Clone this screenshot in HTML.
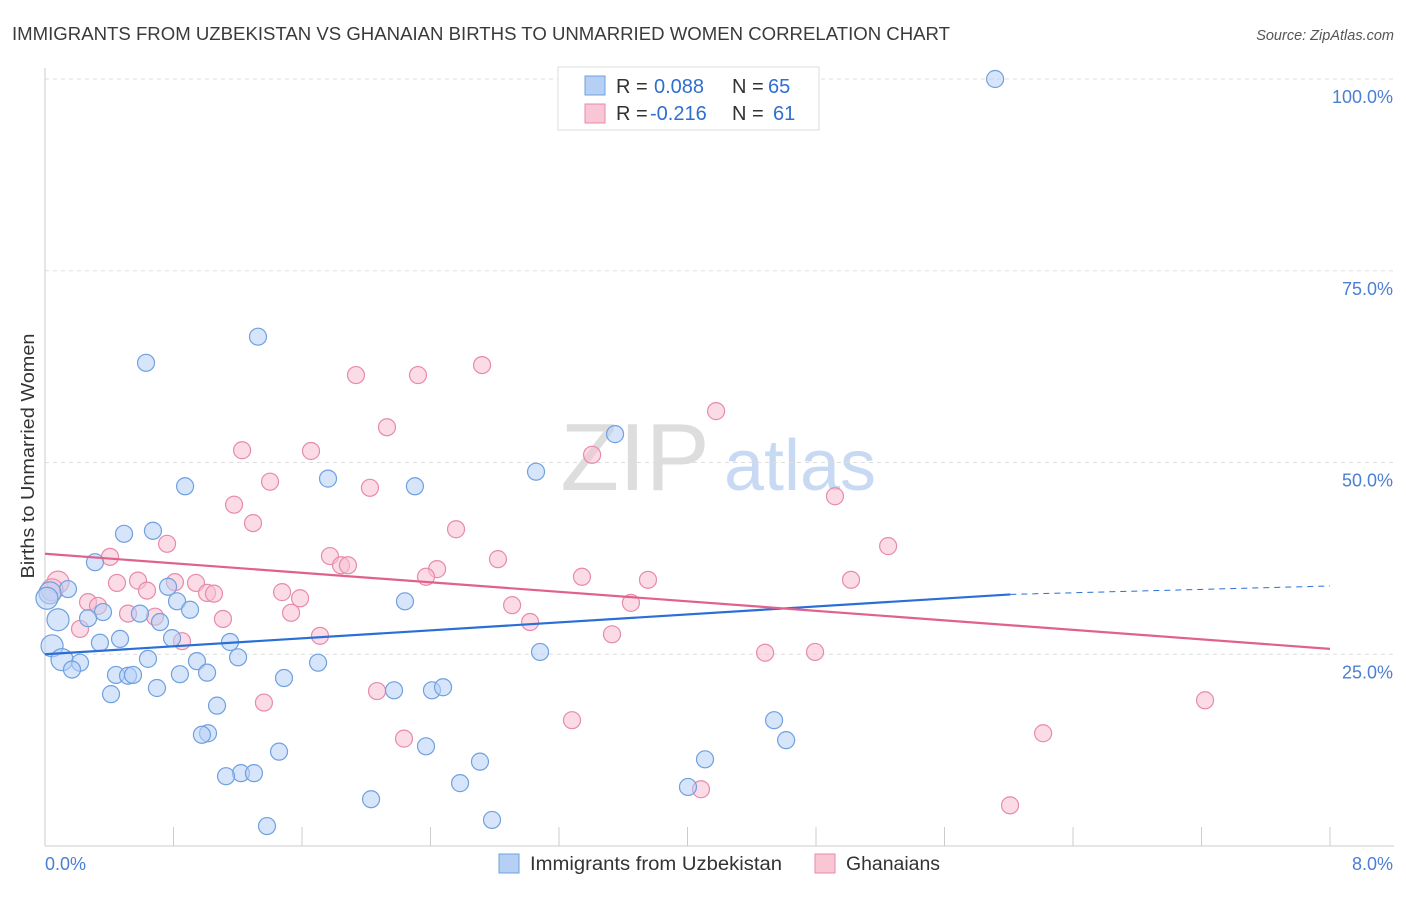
<!DOCTYPE html>
<html><head><meta charset="utf-8"><style>
body{margin:0;background:#fff;font-family:"Liberation Sans",sans-serif;}
svg text{font-family:"Liberation Sans",sans-serif;}
</style></head><body>
<svg id="chart" width="1406" height="892" xmlns="http://www.w3.org/2000/svg">
<text x="12" y="40" font-size="18" fill="#3a3a3a" textLength="938" lengthAdjust="spacingAndGlyphs">IMMIGRANTS FROM UZBEKISTAN VS GHANAIAN BIRTHS TO UNMARRIED WOMEN CORRELATION CHART</text>
<text x="1394" y="40" font-size="14.5" fill="#555" font-style="italic" text-anchor="end">Source: ZipAtlas.com</text>
<text transform="translate(34,456) rotate(-90)" font-size="18" fill="#333" text-anchor="middle" textLength="245" lengthAdjust="spacingAndGlyphs">Births to Unmarried Women</text>
<g>
<text x="635" y="490" font-size="96" fill="#ddd" font-family="Liberation Serif" text-anchor="middle">ZIP</text>
<text x="800" y="490" font-size="72" fill="#c8daf3" text-anchor="middle">atlas</text>
</g>
<g id="grid"></g><g id="marks"></g><g id="lines"></g>
<g>
<rect x="558" y="67" width="261" height="63" fill="#fff" stroke="#ddd"/>
<rect x="585" y="76" width="20" height="19" fill="#b6d0f5" stroke="#6fa0e0"/>
<rect x="585" y="104" width="20" height="19" fill="#f9c6d6" stroke="#e88aab"/>
<text x="616" y="93" font-size="20" fill="#333">R = <tspan x="654" fill="#2f6fd0">0.088</tspan><tspan x="732">N = </tspan><tspan x="768" fill="#2f6fd0">65</tspan></text>
<text x="616" y="120" font-size="20" fill="#333">R = <tspan x="650" fill="#2f6fd0">-0.216</tspan><tspan x="732">N = </tspan><tspan x="773" fill="#2f6fd0">61</tspan></text>
</g>
<g>
<rect x="499" y="854" width="20" height="19" fill="#b6d0f5" stroke="#6fa0e0"/>
<text x="530" y="870" font-size="19" fill="#333" textLength="252" lengthAdjust="spacingAndGlyphs">Immigrants from Uzbekistan</text>
<rect x="815" y="854" width="20" height="19" fill="#f9c6d6" stroke="#e88aab"/>
<text x="846" y="870" font-size="19" fill="#333" textLength="94" lengthAdjust="spacingAndGlyphs">Ghanaians</text>
</g>
</svg>
<script>
const yTicks=[25,50,75,100];
const yTickLabels=["25.0%","50.0%","75.0%","100.0%"];
const xTickLabels=["0.0%","8.0%"];
const blueX=[5.915,1.326,0.629,3.549,3.057,0.872,1.762,2.303,0.672,0.492,0.311,0.143,0.031,0.766,0.822,2.241,0.361,0.591,0.903,0.268,0.081,0.716,0.467,0.342,0.791,1.152,0.044,3.082,0.106,0.218,0.641,0.946,1.202,1.700,0.168,0.442,0.517,0.548,0.840,1.009,1.488,0.697,0.411,2.173,2.409,2.478,1.071,4.539,1.015,0.977,4.614,2.372,1.457,4.109,2.708,1.220,1.301,1.127,2.584,4.003,2.030,1.382,2.783,0.012];
const blueY=[100,66.4,63.0,53.7,48.8,46.9,47.9,46.9,41.1,40.7,37.0,33.5,33.0,33.8,31.9,31.9,30.5,30.3,30.8,29.7,29.5,29.2,27.0,26.5,27.1,26.6,26.1,25.3,24.3,23.9,24.4,24.1,24.6,23.9,23.0,22.3,22.2,22.3,22.4,22.6,21.9,20.6,19.8,20.3,20.3,20.7,18.3,16.4,14.7,14.5,13.8,13.0,12.3,11.3,11.0,9.5,9.5,9.1,8.2,7.7,6.1,2.6,3.4,32.3];
const pinkX=[2.721,1.936,2.322,2.129,4.178,1.227,1.656,3.406,1.401,2.023,4.918,1.177,1.295,2.559,0.760,5.249,0.405,1.774,2.820,1.843,1.886,2.441,2.372,3.343,0.081,0.579,0.448,0.809,0.940,3.754,5.018,0.635,1.009,1.052,1.476,1.588,0.044,0.268,0.330,2.908,3.648,0.685,0.517,1.108,1.532,3.020,0.218,1.712,3.530,0.853,4.483,4.794,2.067,1.363,7.222,3.281,2.235,6.214,4.084,6.008];
const pinkY=[62.7,61.4,61.4,54.6,56.7,51.6,51.5,51.0,47.5,46.7,45.6,44.5,42.1,41.3,39.4,39.1,37.7,37.8,37.4,36.6,36.6,36.1,35.1,35.1,34.4,34.6,34.3,34.4,34.3,34.7,34.7,33.3,33.0,32.9,33.1,32.3,33.4,31.8,31.3,31.4,31.7,29.9,30.3,29.6,30.4,29.2,28.3,27.4,27.6,26.7,25.2,25.3,20.2,18.7,19.0,16.4,14.0,14.7,7.4,5.3];
const blueTrend=[0,25.0,6.01,32.8,8,33.9];
const pinkTrend=[0,38.1,8,25.7];
const X=v=>45+v/8*1285, Y=v=>846-v/100*767;
const NS="http://www.w3.org/2000/svg";
function mk(t,a,p){const e=document.createElementNS(NS,t);for(const k in a)e.setAttribute(k,a[k]);p.appendChild(e);return e;}
const grid=document.getElementById('grid');
mk('line',{x1:45,y1:68,x2:45,y2:846,stroke:'#ccc'},grid);
mk('line',{x1:45,y1:846,x2:1394,y2:846,stroke:'#ccc'},grid);
yTicks.forEach((t,i)=>{
 const l=mk('line',{x1:45,y1:Y(t),x2:1394,y2:Y(t),stroke:'#ddd','stroke-dasharray':'4,4'},grid);
 
 
 const tx=mk('text',{x:1393,y:Y(t)+24,'font-size':18,fill:'#4a7fd4','text-anchor':'end'},grid);
 tx.textContent=yTickLabels[i];
 
 
});
for(let i=1;i<=10;i++){const l=mk('line',{x1:X(i*0.8),y1:827,x2:X(i*0.8),y2:846,stroke:'#ccc'},grid);
 
 }
[[0,45,'start'],[8,1393,'end']].forEach((d,i)=>{const t=mk('text',{x:d[1],y:870,'font-size':18,fill:'#4a7fd4','text-anchor':d[2]},grid);t.textContent=xTickLabels[i];
 
 });
const marks=document.getElementById('marks');
function pts(xs,ys,fill,stroke,name){xs.forEach((x,i)=>{const r=x<0.12?11:8.5;
 const c=mk('circle',{cx:X(x),cy:Y(ys[i]),r:r,fill:fill,'fill-opacity':0.55,stroke:stroke,'stroke-width':1.2},marks);
 
 });}
pts(pinkX,pinkY,'#f7bfd2','#e88aab','ghanaians-point');
pts(blueX,blueY,'#b6d0f5','#6fa0e0','uzbekistan-point');
const lines=document.getElementById('lines');
let a=mk('line',{x1:X(blueTrend[0]),y1:Y(blueTrend[1]),x2:X(blueTrend[2]),y2:Y(blueTrend[3]),stroke:'#2a6fd6','stroke-width':2.2},lines);


let b=mk('line',{x1:X(blueTrend[2]),y1:Y(blueTrend[3]),x2:X(blueTrend[4]),y2:Y(blueTrend[5]),stroke:'#2a6fd6','stroke-width':1,'stroke-dasharray':'6,5'},lines);


let c=mk('line',{x1:X(pinkTrend[0]),y1:Y(pinkTrend[1]),x2:X(pinkTrend[2]),y2:Y(pinkTrend[3]),stroke:'#e0608f','stroke-width':2.2},lines);


</script>
</body></html>
